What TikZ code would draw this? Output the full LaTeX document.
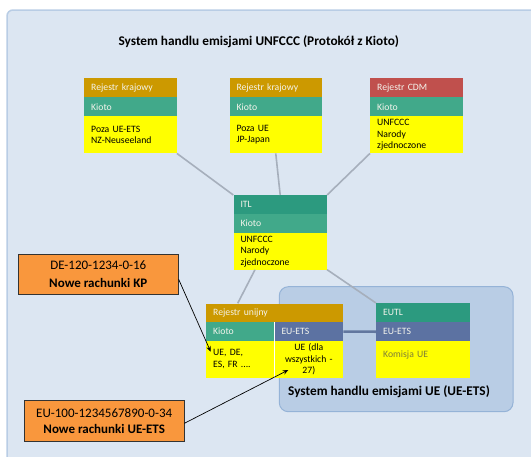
\documentclass[tikz,border=0pt]{standalone}
\usepackage{fontspec}
\setmainfont{Carlito}
\usetikzlibrary{calc,arrows.meta}
\definecolor{bgBlue}{HTML}{DCE6F2}
\definecolor{bgBorder}{HTML}{B9CDE5}
\definecolor{regFill}{HTML}{B9CDE5}
\definecolor{regBorder}{HTML}{95B3D7}
\definecolor{cOrange}{HTML}{CC9900}
\definecolor{cRed}{HTML}{C0504D}
\definecolor{cKioto}{HTML}{41A98A}
\definecolor{cTeal}{HTML}{2C9A7F}
\definecolor{cSlate}{HTML}{5C72A2}
\definecolor{cYellow}{HTML}{FFFF00}
\definecolor{cCall}{HTML}{F9973D}
\definecolor{cConn}{HTML}{A6AFBC}
\definecolor{cBlueConn}{HTML}{62779F}
\definecolor{cKom}{HTML}{7E7E38}
\definecolor{cHdrText}{HTML}{F4F4EC}
\begin{document}
\begin{tikzpicture}[x=1pt,y=-1pt,
  row/.style={rectangle, anchor=north west, inner xsep=7pt, inner ysep=0pt,
    align=left, font=\fontsize{9.7}{11.5}\selectfont},
  hdr/.style={row, text=cHdrText, minimum height=19pt},
  body/.style={row, fill=cYellow, text=black, minimum height=37pt},
  conn/.style={draw=cConn, line width=1.6pt},
  blueconn/.style={draw=cBlueConn, line width=2.6pt},
  callout/.style={rectangle, draw=black!80, line width=0.7pt, fill=cCall,
    align=center, inner sep=0pt},
  callarrow/.style={draw=black, line width=0.7pt, -{Stealth[length=5.5pt,width=4.5pt]}},
  heading/.style={font=\fontsize{13.3}{15}\selectfont\bfseries, text=black}
]
\useasboundingbox (0,0) rectangle (531,456);
\clip (0,0) rectangle (531,456);
\fill[white] (0,0) rectangle (531,456);
% background panel
\draw[fill=bgBlue, draw=bgBorder, line width=1.5pt, rounded corners=6pt] (7,10) rectangle (560,490);
% EU-ETS region
\draw[fill=regFill, draw=regBorder, line width=1pt, rounded corners=9pt] (279.3,286.7) rectangle (513,411.7);

\node[heading] (title) at (258.7,42) {System handlu emisjami UNFCCC (Protokół z Kioto)};
\node[heading] (etslabel) at (389,392) {System handlu emisjami UE (UE-ETS)};

% Box 1
\node[hdr, fill=cOrange, text width=78.5pt] (k1h) at (84,78) {Rejestr krajowy};
\node[hdr, fill=cKioto, text width=78.5pt] (k1k) at (84,97) {Kioto};
\node[body, text width=78.5pt] (k1y) at (84,116) {Poza UE-ETS\\NZ-Neuseeland};
% Box 2
\node[hdr, fill=cOrange, text width=78.5pt] (k2h) at (229.3,78) {Rejestr krajowy};
\node[hdr, fill=cKioto, text width=78.5pt] (k2k) at (229.3,97) {Kioto};
\node[body, text width=78.5pt] (k2y) at (229.3,116) {Poza UE\\JP-Japan};
% Box 3
\node[hdr, fill=cRed, text width=78.5pt] (k3h) at (370,78) {Rejestr CDM};
\node[hdr, fill=cKioto, text width=78.5pt] (k3k) at (370,97) {Kioto};
\node[body, text width=78.5pt] (k3y) at (370,116) {UNFCCC\\Narody\\zjednoczone};
% ITL
\node[hdr, fill=cTeal, text width=79.4pt] (itlh) at (233.3,195) {ITL};
\node[hdr, fill=cKioto, text width=79.4pt, minimum height=18.7pt] (itlk) at (233.3,214) {Kioto};
\node[body, text width=79.4pt, minimum height=36.6pt] (itly) at (233.3,232.7) {UNFCCC\\Narody\\zjednoczone};
% Rejestr unijny
\node[hdr, fill=cOrange, text width=123pt, minimum height=18.7pt] (ruh) at (206,303.3) {Rejestr unijny};
\node[hdr, fill=cKioto, text width=54.3pt, minimum height=18.7pt] (ruk) at (206,322) {Kioto};
\node[hdr, fill=cSlate, text width=54.7pt, minimum height=18.7pt] (rue) at (274.3,322) {EU-ETS};
\node[body, text width=54.3pt, minimum height=36.6pt] (ruky) at (206,340.7) {UE, DE,\\ES, FR ....};
\node[body, text width=54.7pt, minimum height=36.6pt, align=center] (ruey) at (274.3,340.7) {UE (dla\\wszystkich -\\27)};
\draw[white, line width=0.9pt] (rue.north west) -- (ruey.south west);
% EUTL
\node[hdr, fill=cTeal, text width=79.7pt] (euh) at (376,303) {EUTL};
\node[hdr, fill=cSlate, text width=79.7pt] (eue) at (376,322) {EU-ETS};
\node[body, text width=79.7pt, minimum height=36.7pt, text=cKom] (euy) at (376,341) {Komisja UE\\\mbox{}};

% connectors
\draw[conn] (k1y.south east) -- (itlh.north west);
\draw[conn] (k2y.south) -- (itlh.north);
\draw[conn] (k3y.south west) -- (itlh.north east);
\draw[conn] ($(itly.south west)+(21.7,0)$) -- ($(ruh.north west)+(31.7,0)$);
\draw[conn] (itly.south east) -- (euh.north west);
\draw[blueconn] (rue.east) -- (eue.west);

% callouts
\node[callout, minimum width=160pt, minimum height=40pt,
  font=\fontsize{13}{18}\selectfont] (c1) at (98.3,274.3)
  {DE-120-1234-0-16\\\textbf{Nowe rachunki KP}};
\node[callout, minimum width=159.7pt, minimum height=40.3pt,
  font=\fontsize{13}{16}\selectfont] (c2) at (104.2,420.9)
  {EU-100-1234567890-0-34\\\textbf{Nowe rachunki UE-ETS}};
\coordinate (tip1) at (210.7,351.7);
\coordinate (tip2) at (288.3,370);
\draw[callarrow] ([yshift=-5pt]c1.east) -- (tip1);
\draw[callarrow] ([yshift=-2.4pt]c2.east) -- (tip2);
\end{tikzpicture}
\end{document}
